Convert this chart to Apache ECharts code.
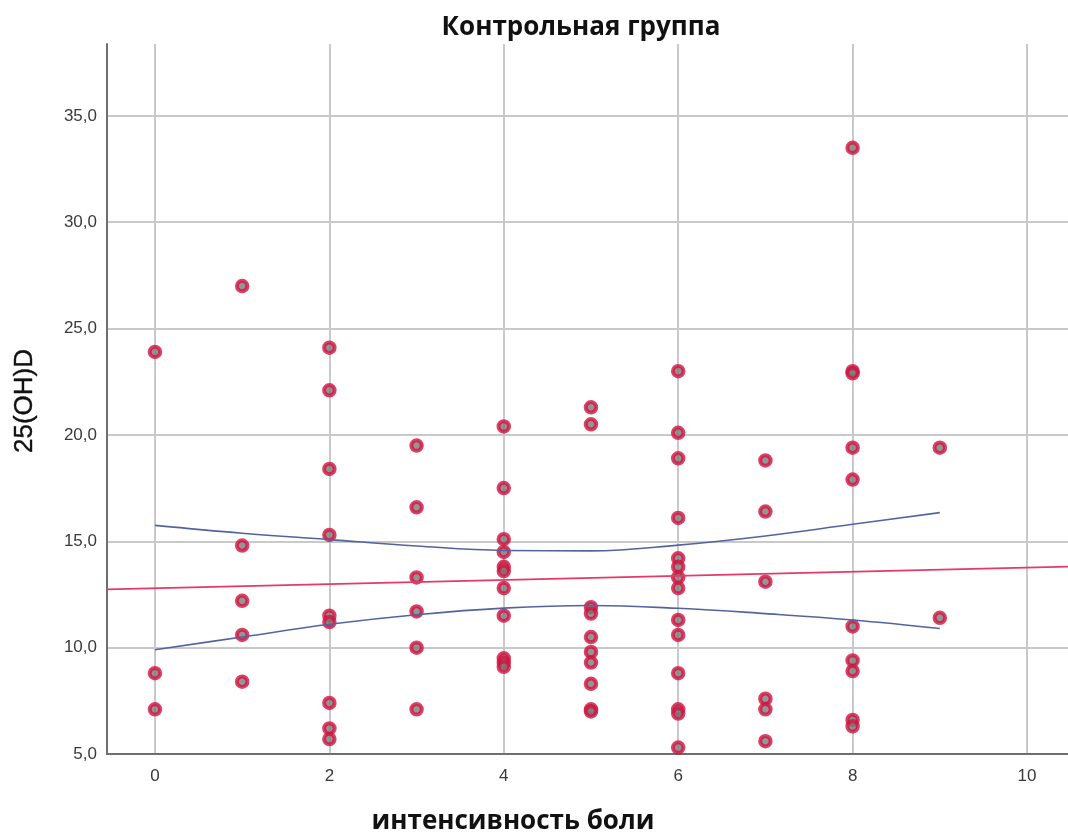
<!DOCTYPE html>
<html>
<head>
<meta charset="utf-8">
<script src="https://cdn.jsdelivr.net/npm/echarts@6/dist/echarts.min.js"></script>
<style>
  html, body { margin: 0; padding: 0; background: #fff; }
  #chart { width: 1068px; height: 834px; }
</style>
</head>
<body>
<div id="chart"></div>
<script>
// 25(OH)D values grouped by pain intensity score
const pain0 = [23.9, 8.8, 7.1];
const pain1 = [27.0, 14.8, 12.2, 10.6, 8.4];
const pain2 = [24.1, 22.1, 18.4, 15.3, 11.5, 11.2, 7.4, 6.2, 5.7];
const pain3 = [19.5, 16.6, 13.3, 11.7, 10.0, 7.1];
const pain4 = [20.4, 17.5, 15.1, 14.5, 13.8, 13.6, 12.8, 11.5, 9.5, 9.3, 9.1];
const pain5 = [21.3, 20.5, 11.9, 11.6, 10.5, 9.8, 9.3, 8.3, 7.1, 7.0];
const pain6 = [23.0, 20.1, 18.9, 16.1, 14.2, 13.8, 13.3, 12.8, 11.3, 10.6, 8.8, 7.1, 6.9, 5.3];
const pain7 = [18.8, 16.4, 13.1, 7.6, 7.1, 5.6];
const pain8 = [33.5, 23.0, 22.9, 19.4, 17.9, 11.0, 9.4, 8.9, 6.6, 6.3];
const pain9 = [19.4, 11.4];
const groups = [pain0, pain1, pain2, pain3, pain4, pain5, pain6, pain7, pain8, pain9];

// Linear fit line (ends at the plot edges)
const fitX = [-0.55, 10.47];
const fitY = [12.74, 13.81];

// 95% confidence band of the mean, at pain scores 0..9
const bandX = [0, 1, 2, 3, 4, 5, 6, 7, 8, 9];
const bandUpper = [15.75, 15.38, 15.08, 14.78, 14.57, 14.55, 14.82, 15.25, 15.8, 16.35];
const bandLower = [9.9, 10.5, 11.1, 11.55, 11.86, 11.98, 11.85, 11.6, 11.3, 10.9];

// Axis ticks
const xTicks = [0, 2, 4, 6, 8, 10];
const yTicks = [5, 10, 15, 20, 25, 30, 35];

const points = [];
groups.forEach((vals, i) => vals.forEach(v => points.push([i, v])));

const chart = echarts.init(document.getElementById('chart'), null, { renderer: 'canvas' });

const gridColor = '#c9c9c9';
const labelColor = '#3a3a3a';

chart.setOption({
  animation: false,
  backgroundColor: '#ffffff',
  grid: { left: 107, right: 0, top: 44, bottom: 80, containLabel: false },
  graphic: [
    {
      type: 'text', x: 581, y: 28, z: 10,
      style: { text: 'Контрольная группа', font: 'bold 26px "Open Sans"', fill: '#111',
        textAlign: 'center', textVerticalAlign: 'middle' }
    },
    {
      type: 'text', x: 513, y: 822, z: 10,
      style: { text: 'интенсивность боли', font: 'bold 26px "Open Sans"', fill: '#111',
        textAlign: 'center', textVerticalAlign: 'middle' }
    },
    {
      type: 'text', x: 25, y: 401, rotation: Math.PI / 2, z: 10,
      style: { text: '25(OH)D', font: '26px "Liberation Sans"', fill: '#111',
        stroke: '#111', lineWidth: 0.4,
        textAlign: 'center', textVerticalAlign: 'middle' }
    }
  ],
  xAxis: {
    type: 'value',
    min: -0.55,
    max: 10.47,
    axisLine: { show: true, onZero: false, lineStyle: { color: '#6e6e6e', width: 2 } },
    axisTick: { show: false, customValues: xTicks },
    axisLabel: { customValues: xTicks, color: labelColor, fontSize: 17,
      fontFamily: '"Liberation Sans", Arial', margin: 14 },
    splitLine: { show: true, lineStyle: { color: gridColor, width: 2 } }
  },
  yAxis: {
    type: 'value',
    min: 5,
    max: 38.38,
    axisLine: { show: true, onZero: false, lineStyle: { color: '#6e6e6e', width: 2 } },
    axisTick: { show: false, customValues: yTicks },
    axisLabel: { customValues: yTicks, color: labelColor, fontSize: 17,
      fontFamily: '"Liberation Sans", Arial', margin: 10,
      formatter: v => v.toFixed(1).replace('.', ',') },
    splitLine: { show: true, lineStyle: { color: gridColor, width: 2 } }
  },
  series: [
    {
      type: 'scatter',
      data: points,
      symbol: 'circle',
      symbolSize: 10.5,
      itemStyle: { color: '#7b7b7b', borderColor: '#d3123f', borderWidth: 4 },
      z: 3
    },
    {
      type: 'line',
      data: fitX.map((x, i) => [x, fitY[i]]),
      symbol: 'none',
      lineStyle: { color: '#e33a68', width: 1.6 },
      z: 4
    },
    {
      type: 'line',
      data: bandX.map((x, i) => [x, bandUpper[i]]),
      symbol: 'none',
      smooth: 0.4,
      lineStyle: { color: '#52649f', width: 1.6 },
      z: 4
    },
    {
      type: 'line',
      data: bandX.map((x, i) => [x, bandLower[i]]),
      symbol: 'none',
      smooth: 0.4,
      lineStyle: { color: '#52649f', width: 1.6 },
      z: 4
    }
  ]
});
</script>
</body>
</html>
